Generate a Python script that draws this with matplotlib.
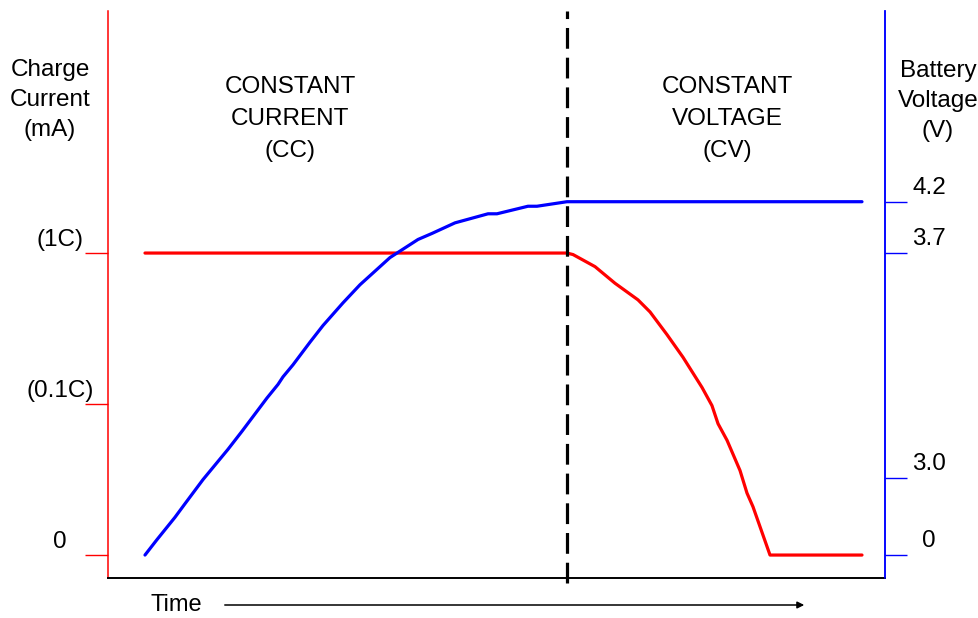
import matplotlib
matplotlib.use("Agg")
import matplotlib.pyplot as plt

plt.rcParams['font.family'] = ['Liberation Sans', 'DejaVu Sans']

# schematic CC/CV charge profile, time in % of the plotted span,
# levels in "divisions" above the zero line (axes are not to scale)
current_t = [4.76, 59.07, 59.85, 62.68, 65.25, 68.21, 69.76, 71.94, 74.00, 76.45,
             77.73, 78.51, 79.67, 81.34, 82.24, 83.01, 85.20, 97.04]
current_lvl = [2.0, 2.0, 1.99, 1.91, 1.80, 1.69, 1.61, 1.46, 1.31, 1.11,
               0.99, 0.87, 0.76, 0.56, 0.41, 0.32, 0.0, 0.0]

voltage_t = [4.76, 6.27, 8.62, 9.91, 12.23, 15.44, 17.25, 20.46, 21.88, 22.52, 23.81,
             26.0, 27.67, 30.24, 32.43, 36.29, 39.90, 41.70, 44.66, 48.91, 50.06,
             54.05, 55.21, 59.07, 97.04]
voltage_lvl = [0.0, 0.10, 0.25, 0.34, 0.50, 0.70, 0.82, 1.04, 1.13, 1.18, 1.26,
               1.41, 1.52, 1.67, 1.79, 1.97, 2.09, 2.13, 2.20, 2.26, 2.26,
               2.31, 2.31, 2.34, 2.34]

switch_t = 59.07   # CC -> CV changeover

left_ticks = [0, 1.0, 2.0]
left_labels = ['0', '(0.1C)', '(1C)']
right_ticks = [0, 0.51, 2.0, 2.34]
right_labels = ['0', '3.0', '3.7', '4.2']

W, H = 979, 618
RED = '#ff0000'
BLUE = '#0000ff'
FS = 17.5


def fx(px):
    return px / W


def fy(py):
    return 1 - py / H


fig = plt.figure(figsize=(W / 100, H / 100), dpi=100)
ax = fig.add_axes([fx(108), fy(578), 777 / W, 567 / H])
ax.set_xlim(0, 100)
ax.set_ylim(-0.152, 3.603)

ax.plot(current_t, current_lvl, color=RED, lw=2.3, solid_capstyle='round')
ax.plot(voltage_t, voltage_lvl, color=BLUE, lw=2.3, solid_capstyle='round')
ax.axvline(switch_t, ymin=-0.008, ymax=1.0, color='black', lw=2.3,
           linestyle=(0, (6.5, 2.8)), clip_on=False)

# spines
ax.spines['top'].set_visible(False)
ax.spines['left'].set_color(RED)
ax.spines['left'].set_linewidth(1.1)
ax.spines['right'].set_color(BLUE)
ax.spines['right'].set_linewidth(1.1)
ax.spines['bottom'].set_color('black')
ax.spines['bottom'].set_linewidth(1.4)
ax.set_xticks([])

ax.set_yticks(left_ticks)
ax.set_yticklabels([])
ax.tick_params(axis='y', direction='out', length=16.5, width=1.0, color=RED)

ax2 = ax.twinx()
ax2.set_ylim(ax.get_ylim())
ax2.set_yticks(right_ticks)
ax2.set_yticklabels([])
ax2.tick_params(axis='y', direction='out', length=16, width=1.0, color=BLUE)
for s in ['top', 'left', 'bottom']:
    ax2.spines[s].set_visible(False)
ax2.spines['right'].set_color(BLUE)
ax2.spines['right'].set_linewidth(1.1)

# tick labels sit a little above their ticks
for pos, lab in zip(left_ticks, left_labels):
    ax.annotate(lab, xy=(fx(60), pos), xycoords=('figure fraction', 'data'),
                xytext=(0, 9.5), textcoords='offset points',
                ha='center', va='center', fontsize=FS)
for pos, lab in zip(right_ticks, right_labels):
    ax.annotate(lab, xy=(fx(929), pos), xycoords=('figure fraction', 'data'),
                xytext=(0, 10), textcoords='offset points',
                ha='center', va='center', fontsize=FS)

# axis titles and phase labels
fig.text(fx(50), fy(100), 'Charge\nCurrent\n(mA)', ha='center', va='center',
         fontsize=FS, linespacing=1.45)
fig.text(fx(938), fy(101), 'Battery\nVoltage\n(V)', ha='center', va='center',
         fontsize=FS, linespacing=1.45)
fig.text(fx(290), fy(119), 'CONSTANT\nCURRENT\n(CC)', ha='center', va='center',
         fontsize=FS, linespacing=1.57)
fig.text(fx(727), fy(119), 'CONSTANT\nVOLTAGE\n(CV)', ha='center', va='center',
         fontsize=FS, linespacing=1.57)

fig.text(fx(176), fy(605), 'Time', ha='center', va='center', fontsize=17)
fig.patches.append(matplotlib.patches.FancyArrowPatch(
    (fx(222), fy(605)), (fx(807), fy(605)), transform=fig.transFigure,
    arrowstyle='-|>', mutation_scale=10, color='black', lw=1.1))

fig.savefig('out.png', dpi=100)
